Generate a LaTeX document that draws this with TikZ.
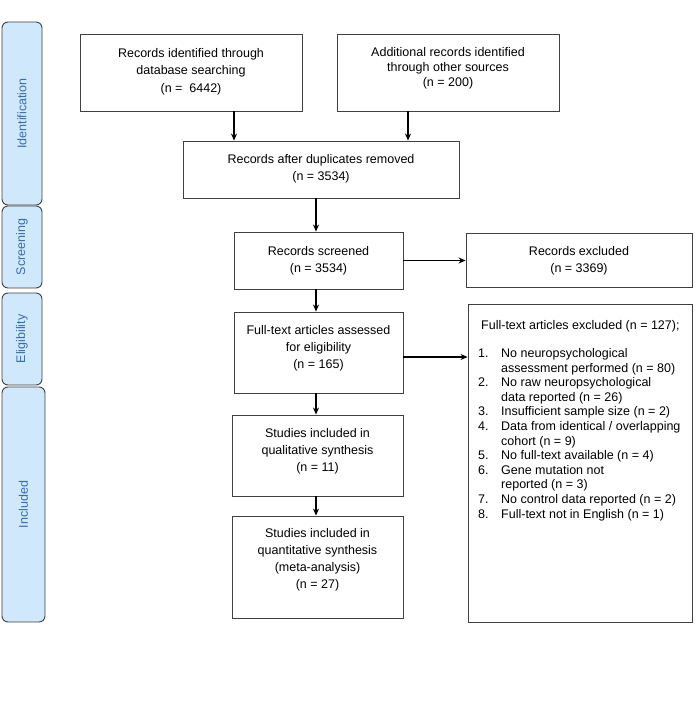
\documentclass[tikz,border=0pt]{standalone}
\usepackage{fontspec}
\setmainfont{Liberation Sans}
\usetikzlibrary{arrows.meta}
\definecolor{tabfill}{HTML}{CFE8FB}
\definecolor{tabtext}{HTML}{3A6EA8}
\definecolor{boxline}{HTML}{404040}
\begin{document}
\begin{tikzpicture}[x=1pt,y=-1pt,
  box/.style={draw=boxline,line width=0.9pt,rectangle,inner sep=0pt},
  txt/.style={inner sep=0pt,align=center,font=\fontsize{12.5}{17}\selectfont},
  tab/.style={draw=boxline,fill=tabfill,line width=0.9pt,rounded corners=6pt,rectangle,inner sep=0pt},
  tablabel/.style={rotate=90,text=tabtext,font=\fontsize{12.5}{15}\selectfont},
  arr/.style={draw=black,line width=1.2pt,-{Stealth[length=7pt,width=6pt]}}]
\useasboundingbox (0,0) rectangle (696,727);
% side tabs
\node[tab,minimum width=40pt,minimum height=183pt] (tid) at (22,113.5) {};
\node[tablabel] (lid) at (tid.center) {Identification};
\node[tab,minimum width=40pt,minimum height=82pt] (tsc) at (22,247) {};
\node[tablabel] (lsc) at (tsc.center) {Screening};
\node[tab,minimum width=40pt,minimum height=92pt] (tel) at (22,339) {};
\node[tablabel] (lel) at (tel.center) {Eligibility};
\node[tab,minimum width=43pt,minimum height=235pt] (tin) at (23.5,504.5) {};
\node[tablabel] (lin) at (tin.center) {Included};
% boxes
\node[box,minimum width=222pt,minimum height=77pt] (db) at (191,72.5) {};
\node[txt,font=\fontsize{12.5}{17.5}\selectfont] (dbt) at ([yshift=1pt]db.center)
  {Records identified through\\database searching\\(n =\ \ 6442)};
\node[box,minimum width=222pt,minimum height=77pt] (other) at (448,72.5) {};
\node[txt,font=\fontsize{12.5}{15}\selectfont] (othert) at ([yshift=4pt]other.center)
  {Additional records identified\\through other sources\\(n = 200)};
\node[box,minimum width=276pt,minimum height=57pt] (dup) at (321,169.5) {};
\node[txt] (dupt) at ([yshift=0.5pt]dup.center)
  {Records after duplicates removed\\(n = 3534)};
\node[box,minimum width=169pt,minimum height=57pt] (scr) at (318.5,260.5) {};
\node[txt] (scrt) at (scr.center) {Records screened\\(n = 3534)};
\node[box,minimum width=226pt,minimum height=54pt] (exc) at (579,260) {};
\node[txt,font=\fontsize{12.5}{16.5}\selectfont] (exct) at ([yshift=-1pt]exc.center) {Records excluded\\(n = 3369)};
\node[box,minimum width=169pt,minimum height=81pt] (full) at (318.5,352.5) {};
\node[txt] (fullt) at ([yshift=4pt]full.center)
  {Full-text articles assessed\\for eligibility\\(n = 165)};
\node[box,minimum width=171pt,minimum height=81pt] (qual) at (317.5,455.5) {};
\node[txt] (qualt) at ([yshift=4pt]qual.center)
  {Studies included in\\qualitative synthesis\\(n = 11)};
\node[box,minimum width=171pt,minimum height=102pt] (quant) at (317.5,567) {};
\node[txt] (quantt) at ([yshift=7.5pt]quant.center)
  {Studies included in\\quantitative synthesis\\(meta-analysis)\\(n = 27)};
\node[box,minimum width=224pt,minimum height=318pt] (ftex) at (580,463) {};
\node[anchor=base west,inner sep=0pt,font=\fontsize{12.5}{15}\selectfont] (fthead)
  at (481,329) {Full-text articles excluded (n = 127);};
\node[anchor=north west,inner sep=0pt,align=left,
  font=\fontsize{12.5}{14.6}\selectfont] (ftlist) at (478,347)
  {\begin{tabular}{@{}p{17pt}@{\hspace{6pt}}l@{}}
   1. & No neuropsychological\\
      & assessment performed (n = 80)\\
   2. & No raw neuropsychological\\
      & data reported (n = 26)\\
   3. & Insufficient sample size (n = 2)\\
   4. & Data from identical / overlapping\\
      & cohort (n = 9)\\
   5. & No full-text available (n = 4)\\
   6. & Gene mutation not\\
      & reported (n = 3)\\
   7. & No control data reported (n = 2)\\
   8. & Full-text not in English (n = 1)
   \end{tabular}};
% arrows
\draw[arr] ([xshift=43pt]db.south) -- ([xshift=43pt]db.south |- dup.north);
\draw[arr] ([xshift=-40pt]other.south) -- ([xshift=-40pt]other.south |- dup.north);
\draw[arr] ([xshift=-5pt]dup.south) -- ([xshift=-5pt]dup.south |- scr.north);
\draw[arr] ([xshift=-2.5pt]scr.south) -- ([xshift=-2.5pt]scr.south |- full.north);
\draw[arr] (scr.east) -- (scr.east -| exc.west);
\draw[arr] ([yshift=-4.5pt]full.east) -- ([yshift=-4.5pt]full.east -| ftex.west);
\draw[arr] ([xshift=-2.5pt]full.south) -- ([xshift=-2.5pt]full.south |- qual.north);
\draw[arr] ([xshift=-1.5pt]qual.south) -- ([xshift=-1.5pt]qual.south |- quant.north);
\end{tikzpicture}
\end{document}
